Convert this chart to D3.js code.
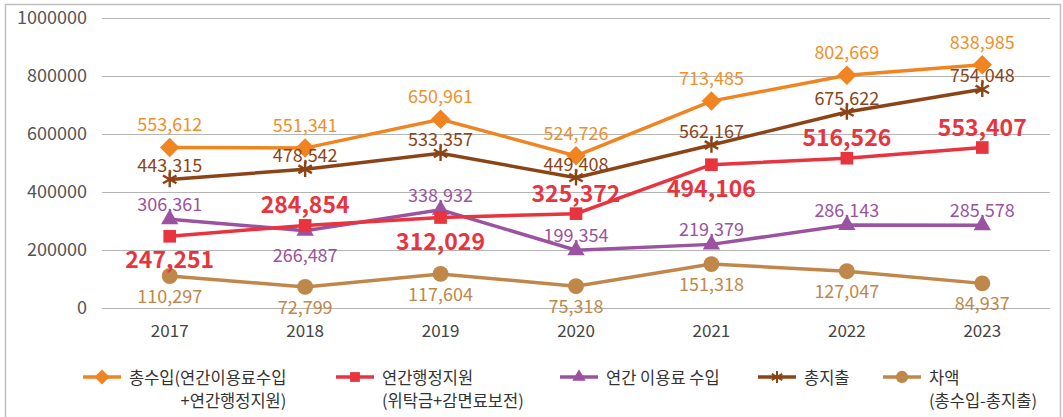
<!DOCTYPE html>
<html>
<head>
<meta charset="utf-8">
<script src="https://cdn.jsdelivr.net/npm/d3@7"></script>
<style>
  body { margin: 0; background: #fff; }
  text { font-family: "Noto Sans CJK KR", "Noto Sans", sans-serif; }
</style>
</head>
<body>
<svg id="chart" width="1063" height="417"></svg>
<script>
// data
const years = [2017, 2018, 2019, 2020, 2021, 2022, 2023];
const totalIncome = [553612, 551341, 650961, 524726, 713485, 802669, 838985];
const adminSupport = [247251, 284854, 312029, 325372, 494106, 516526, 553407];
const usageIncome = [306361, 266487, 338932, 199354, 219379, 286143, 285578];
const totalExpense = [443315, 478542, 533357, 449408, 562167, 675622, 754048];
const balance = [110297, 72799, 117604, 75318, 151318, 127047, 84937];
const yTicks = [0, 200000, 400000, 600000, 800000, 1000000];

// which side of the point each value label goes (a = above, b = below)
const adminSide = ["b", "a", "b", "a", "b", "a", "a"];
const usageSide = ["a", "b", "a", "a", "a", "a", "a"];

// diamond = square turned 45deg
const diamond = {
  draw(ctx, size) {
    const r = Math.sqrt(size / 2);
    ctx.moveTo(0, -r); ctx.lineTo(r, 0); ctx.lineTo(0, r); ctx.lineTo(-r, 0); ctx.closePath();
  }
};

const series = [
  { key: "income", values: totalIncome, color: "#ef8420", label: "#f0902c", symbol: diamond, size: 190, up: -24, down: 20, side: null, leg: ["총수입(연간이용료수입", "+연간행정지원)"], legX: 83 },
  { key: "admin", values: adminSupport, color: "#e8343e", label: "#e8343e", symbol: d3.symbolSquare, size: 160, up: -22, down: 22, side: adminSide, bold: true, leg: ["연간행정지원", "(위탁금+감면료보전)"], legX: 336 },
  { key: "usage", values: usageIncome, color: "#9b52a0", label: "#9b52a0", symbol: d3.symbolTriangle, size: 130, up: -16, down: 23, side: usageSide, leg: ["연간 이용료 수입"], legX: 560 },
  { key: "expense", values: totalExpense, color: "#8b4416", label: "#8b4416", symbol: d3.symbolAsterisk, size: 170, up: -15, down: 20, side: null, leg: ["총지출"], legX: 758 },
  { key: "balance", values: balance, color: "#c0874a", label: "#c0874a", symbol: d3.symbolCircle, size: 200, up: -20, down: 19, side: "b", leg: ["차액", "(총수입-총지출)"], legX: 883 }
];

const svg = d3.select("#chart");
const margin = { top: 18, right: 13, bottom: 109, left: 102 };
const width = 1063 - margin.left - margin.right;
const height = 417 - margin.top - margin.bottom;

// outer frame
svg.append("rect")
  .attr("x", 5.5).attr("y", 4.5)
  .attr("width", 1055).attr("height", 430)
  .attr("fill", "none").attr("stroke", "#bfbfbf").attr("stroke-width", 1.5);

const g = svg.append("g").attr("transform", `translate(${margin.left},${margin.top})`);

const x = d3.scaleBand().domain(years).range([0, width]);
const y = d3.scaleLinear().domain([0, 1000000]).range([height, 0]);
const cx = d => x(d) + x.bandwidth() / 2;

// grid + y labels
const yAxis = g.append("g")
  .call(d3.axisLeft(y).tickValues(yTicks).tickSize(-width).tickFormat(d3.format("d")).tickPadding(15));
yAxis.select(".domain").remove();
yAxis.selectAll(".tick line").attr("stroke", "#b4b4b4").attr("stroke-width", 1.2);
yAxis.selectAll(".tick text").attr("fill", "#555").style("font-size", "18px");

// x labels
const xAxis = g.append("g").attr("transform", `translate(0,${height})`)
  .call(d3.axisBottom(x).tickSize(0).tickPadding(17));
xAxis.select(".domain").remove();
xAxis.selectAll(".tick text").attr("fill", "#444").style("font-size", "17px");

const line = d3.line().x((d, i) => cx(years[i])).y(d => y(d));

// drawing order roughly like the original
const order = ["income", "usage", "expense", "balance", "admin"];
order.forEach(k => {
  const s = series.find(d => d.key === k);
  const sg = g.append("g");
  sg.append("path")
    .datum(s.values)
    .attr("d", line)
    .attr("fill", "none")
    .attr("stroke", s.color)
    .attr("stroke-width", 3.5);
  sg.selectAll("path.pt")
    .data(s.values)
    .join("path")
    .attr("class", "pt")
    .attr("transform", (d, i) => `translate(${cx(years[i])},${y(d)})`)
    .attr("d", d3.symbol().type(s.symbol).size(s.size))
    .attr("fill", s.symbol === d3.symbolAsterisk ? "none" : s.color)
    .attr("stroke", s.symbol === d3.symbolAsterisk ? s.color : "none")
    .attr("stroke-width", 2.4);
});

// value labels
series.forEach(s => {
  g.append("g").selectAll("text")
    .data(s.values)
    .join("text")
    .attr("x", (d, i) => cx(years[i]))
    .attr("y", (d, i) => {
      const side = s.side == null ? "a" : (typeof s.side === "string" ? s.side : s.side[i]);
      return y(d) + (side === "a" ? s.up : s.down);
    })
    .attr("text-anchor", "middle")
    .attr("dominant-baseline", "central")
    .attr("fill", s.label)
    .style("font-size", s.bold ? "23px" : "18px")
    .style("font-weight", s.bold ? "bold" : "normal")
    .text(d => d3.format(",")(d));
});

// legend
const legY = 377;
series.forEach(s => {
  const lg = svg.append("g").attr("transform", `translate(${s.legX},${legY})`);
  lg.append("line")
    .attr("x1", 0).attr("x2", 38).attr("y1", 0).attr("y2", 0)
    .attr("stroke", s.color).attr("stroke-width", 3.5);
  lg.append("path")
    .attr("transform", "translate(19,0)")
    .attr("d", d3.symbol().type(s.symbol).size(s.size * 0.6))
    .attr("fill", s.symbol === d3.symbolAsterisk ? "none" : s.color)
    .attr("stroke", s.symbol === d3.symbolAsterisk ? s.color : "none")
    .attr("stroke-width", 2);
  const t1 = lg.append("text")
    .attr("x", 46).attr("y", 0)
    .attr("dominant-baseline", "central")
    .attr("fill", "#333")
    .style("font-size", "16.5px")
    .text(s.leg[0]);
  if (s.leg[1]) {
    const t2 = lg.append("text")
      .attr("y", 23)
      .attr("dominant-baseline", "central")
      .attr("fill", "#333")
      .style("font-size", "16.5px")
      .text(s.leg[1]);
    if (s.key === "income") {
      // second line is right aligned to the first
      const end = 46 + t1.node().getComputedTextLength();
      t2.attr("x", end).attr("text-anchor", "end");
    } else {
      t2.attr("x", 46);
    }
  }
});
</script>
</body>
</html>
